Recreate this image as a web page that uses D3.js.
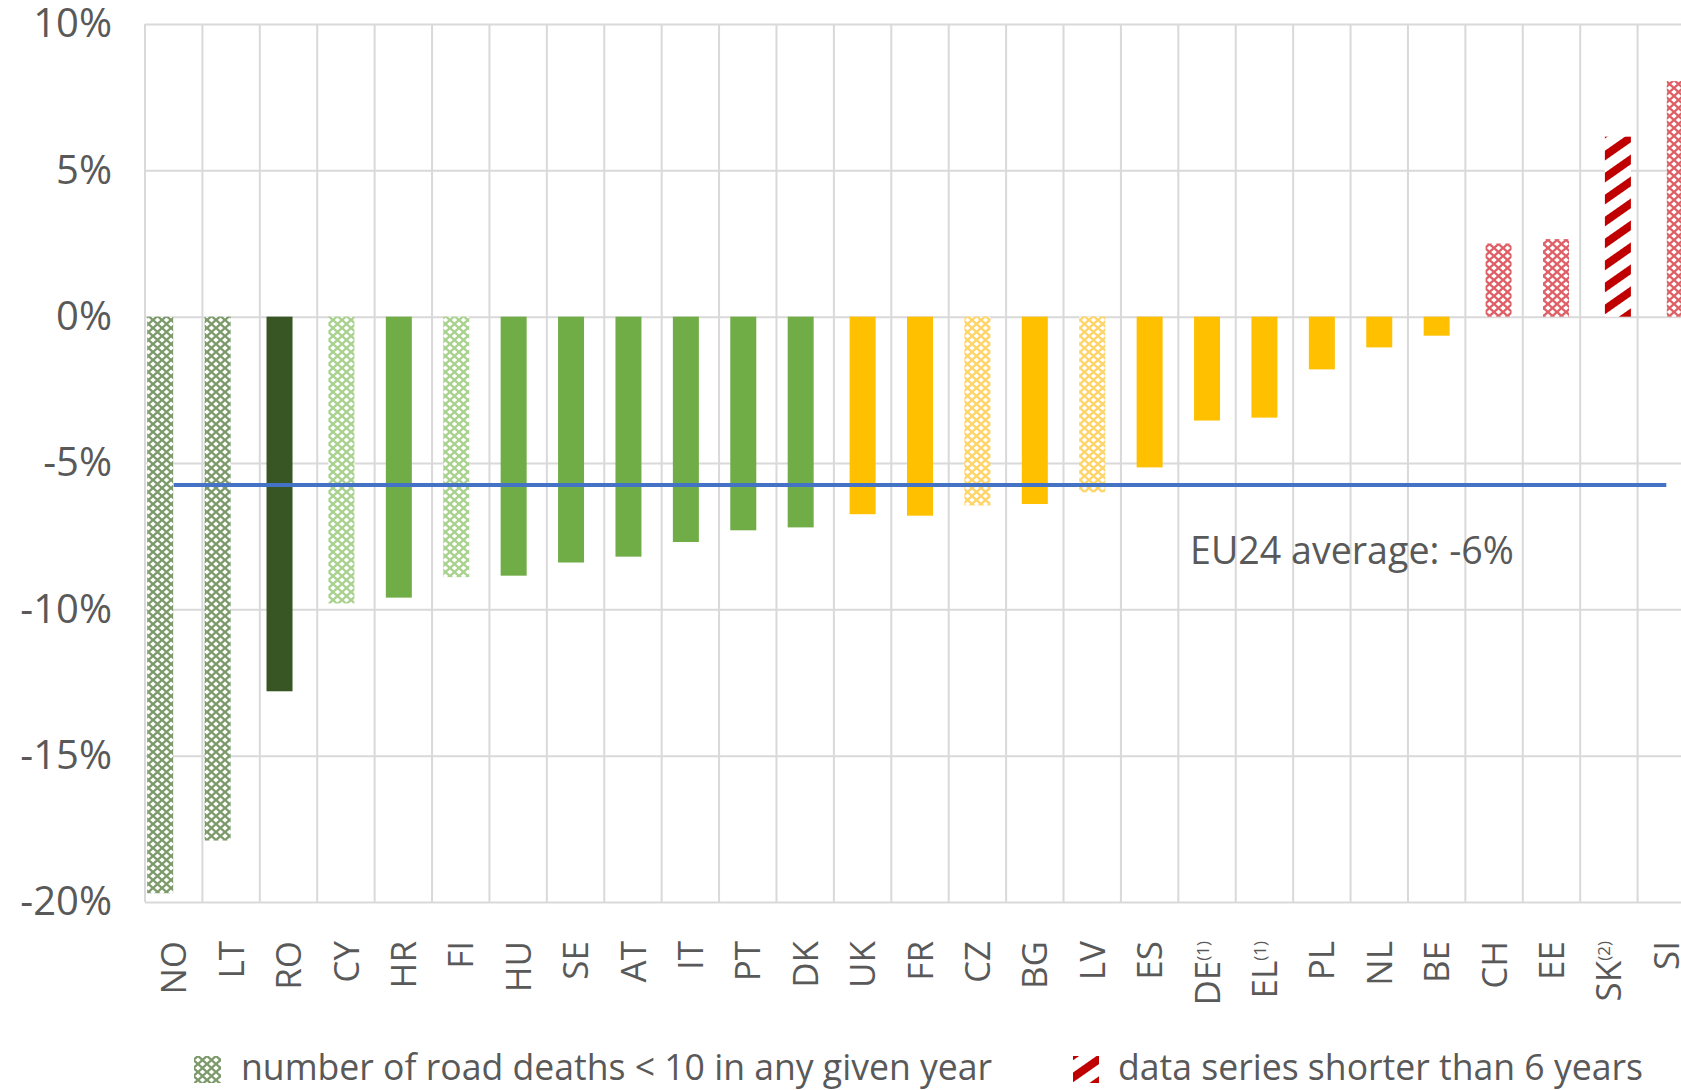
<!DOCTYPE html>
<html>
<head>
<meta charset="utf-8">
<script src="https://cdn.jsdelivr.net/npm/d3@7"></script>
<style>
  body { margin: 0; background: #fff; overflow: hidden; }
  text { font-family: "Open Sans", "Noto Sans", sans-serif; fill: #595959; }
</style>
</head>
<body>
<div id="chart"></div>
<script>
// chart data
var countries = ["NO", "LT", "RO", "CY", "HR", "FI", "HU", "SE", "AT", "IT", "PT", "DK", "UK", "FR",
    "CZ", "BG", "LV", "ES", "DE", "EL", "PL", "NL", "BE", "CH", "EE", "SK", "SI"];
var labelNotes = ["", "", "", "", "", "", "", "", "", "", "", "", "", "",
    "", "", "", "", "(1)", "(1)", "", "", "", "", "", "(2)", ""];
var changes = [-19.7, -17.9, -12.8, -9.8, -9.6, -8.9, -8.85, -8.4, -8.2, -7.7, -7.3, -7.2, -6.75, -6.8,
    -6.45, -6.4, -6.0, -5.15, -3.55, -3.45, -1.8, -1.05, -0.65, 2.5, 2.65, 6.15, 8.05];
// excel series each bar belongs to (they sit slightly shifted in the band)
var seriesIndex = [0, 0, 1, 2, 2, 2, 2, 2, 2, 2, 2, 2, 3, 3,
    3, 3, 3, 3, 3, 3, 3, 3, 3, 4, 4, 5, 6];
var fillKey = ["darkHatch", "darkHatch", "dark", "greenHatch", "green", "greenHatch", "green", "green",
    "green", "green", "green", "green", "yellow", "yellow", "yellowHatch", "yellow", "yellowHatch",
    "yellow", "yellow", "yellow", "yellow", "yellow", "yellow", "redHatch", "redHatch", "redStripe", "redHatch"];
var yTicks = [10, 5, 0, -5, -10, -15, -20];
var euAverage = -5.75;
var euLabel = "EU24 average: -6%";
var legendItems = ["number of road deaths < 10 in any given year", "data series shorter than 6 years"];

var width = 1681,
    height = 1090;

var svg = d3.select("#chart").append("svg")
    .attr("width", width)
    .attr("height", height);

// patterns
var defs = svg.append("defs");
function lattice(id, color) {
    var p = defs.append("pattern")
        .attr("id", id)
        .attr("patternUnits", "userSpaceOnUse")
        .attr("width", 9)
        .attr("height", 8);
    p.append("rect").attr("width", 9).attr("height", 8).attr("fill", "#fff");
    p.append("path")
        .attr("d", "M0,0L9,8M9,0L0,8")
        .attr("stroke", color)
        .attr("stroke-width", 2.4)
        .attr("fill", "none");
}
lattice("darkHatch", "#7d9a6b");
lattice("greenHatch", "#a9d18e");
lattice("yellowHatch", "#ffd466");
lattice("redHatch", "#df5f66");

var stripe = defs.append("pattern")
    .attr("id", "redStripe")
    .attr("patternUnits", "userSpaceOnUse")
    .attr("width", 10)
    .attr("height", 18)
    .attr("patternTransform", "rotate(-35)");
stripe.append("rect").attr("width", 10).attr("height", 18).attr("fill", "#fff");
stripe.append("rect").attr("width", 10).attr("height", 8).attr("fill", "#c00000");

var fills = {
    darkHatch: "url(#darkHatch)",
    dark: "#375623",
    greenHatch: "url(#greenHatch)",
    green: "#70ad47",
    yellowHatch: "url(#yellowHatch)",
    yellow: "#ffc000",
    redHatch: "url(#redHatch)",
    redStripe: "url(#redStripe)"
};

// scales (plot runs off the right edge, like the source screenshot)
var x = d3.scaleBand().domain(countries).range([145, 1695]).padding(0);
var xs = d3.scalePoint().domain(d3.range(7)).range([-13.5, 13.5]);
var y = d3.scaleLinear().domain([-20, 10]).range([902, 24]);
var barWidth = 26;

// gridlines
svg.append("g")
    .attr("transform", "translate(145,0)")
    .call(d3.axisLeft(y).tickValues(yTicks).tickSize(-(1695 - 145)).tickFormat(""))
    .call(function (g) {
        g.select(".domain").remove();
        g.selectAll("line").attr("stroke", "#d9d9d9").attr("stroke-width", 2);
    });

var bounds = countries.map(function (c) { return x(c); }).concat([x.range()[1]]);
svg.append("g").selectAll("line")
    .data(bounds)
    .enter().append("line")
    .attr("x1", function (d) { return d; })
    .attr("x2", function (d) { return d; })
    .attr("y1", y(10))
    .attr("y2", y(-20))
    .attr("stroke", "#d9d9d9")
    .attr("stroke-width", 2);

// y axis labels
svg.append("g")
    .attr("transform", "translate(145,0)")
    .call(d3.axisLeft(y).tickValues(yTicks).tickSize(0).tickPadding(33)
        .tickFormat(function (d) { return d + "%"; }))
    .call(function (g) {
        g.select(".domain").remove();
        g.selectAll("text")
            .style("font-size", "40px")
            .style("font-family", "'Open Sans', sans-serif")
            .attr("fill", "#595959");
    });

// bars
var data = countries.map(function (c, i) {
    return { country: c, value: changes[i], s: seriesIndex[i], fill: fillKey[i] };
});
svg.append("g").selectAll("rect")
    .data(data)
    .enter().append("rect")
    .attr("x", function (d) { return x(d.country) + x.bandwidth() / 2 + xs(d.s) - barWidth / 2; })
    .attr("y", function (d) { return y(Math.max(0, d.value)); })
    .attr("width", barWidth)
    .attr("height", function (d) { return Math.abs(y(d.value) - y(0)); })
    .attr("fill", function (d) { return fills[d.fill]; });

// EU average line
var avgLine = d3.line()
    .x(function (d) { return x(d) + x.bandwidth() / 2; })
    .y(function () { return y(euAverage); });
svg.append("path")
    .datum([countries[0], countries[countries.length - 1]])
    .attr("d", avgLine)
    .attr("stroke", "#4472c4")
    .attr("stroke-width", 4)
    .attr("fill", "none");

svg.append("text")
    .attr("x", 1190)
    .attr("y", 564)
    .style("font-size", "37.6px")
    .text(euLabel);

// category labels, rotated
var labels = svg.append("g").selectAll("text")
    .data(countries)
    .enter().append("text")
    .attr("transform", function (d) {
        return "translate(" + (x(d) + x.bandwidth() / 2) + ",941) rotate(-90)";
    })
    .attr("dy", "0.36em")
    .attr("text-anchor", "end")
    .style("font-size", "35px");
labels.append("tspan").text(function (d) { return d; });
labels.append("tspan")
    .attr("baseline-shift", "super")
    .style("font-size", "17px")
    .text(function (d, i) { return labelNotes[i]; });

// legend
var legend = svg.append("g");
legend.append("rect")
    .attr("x", 194).attr("y", 1056).attr("width", 27).attr("height", 27)
    .attr("fill", "url(#darkHatch)");
legend.append("text")
    .attr("x", 241).attr("y", 1080)
    .style("font-size", "35.6px")
    .text(legendItems[0]);
legend.append("rect")
    .attr("x", 1073).attr("y", 1056).attr("width", 26).attr("height", 27)
    .attr("fill", "url(#redStripe)");
legend.append("text")
    .attr("x", 1118).attr("y", 1080)
    .style("font-size", "35.6px")
    .text(legendItems[1]);
</script>
</body>
</html>
